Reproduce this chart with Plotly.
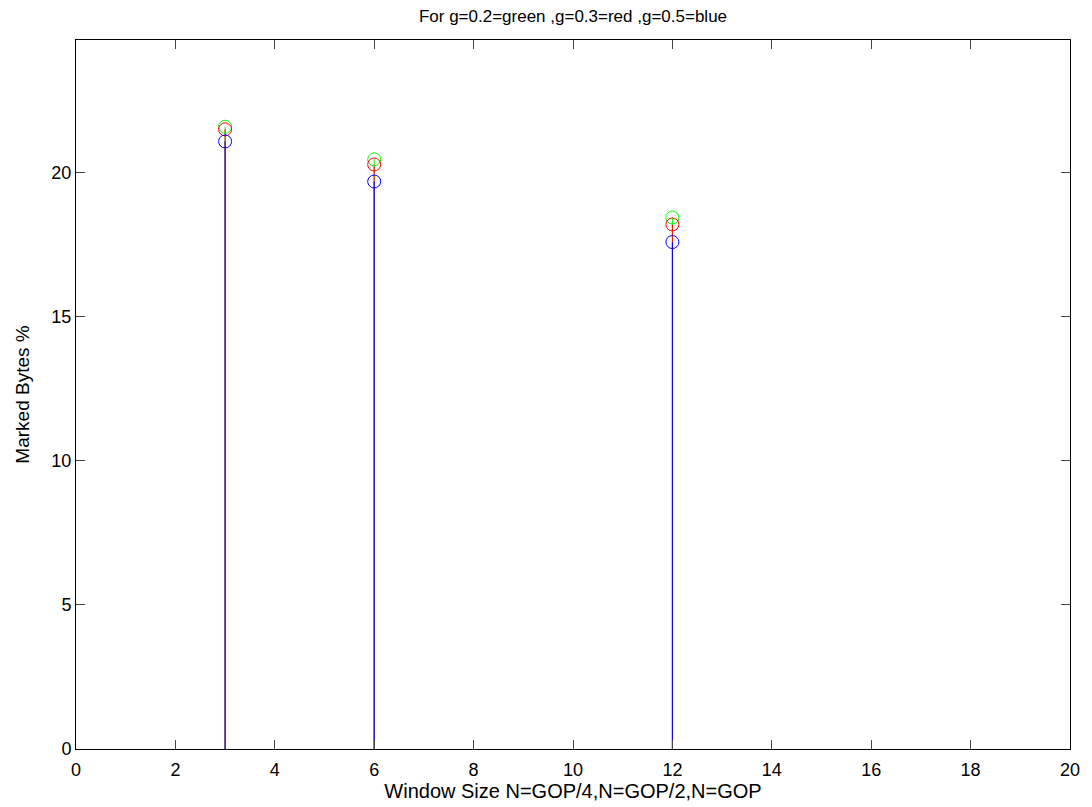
import plotly.graph_objects as go

window_sizes = [3, 6, 12]
g02_green = [21.59, 20.46, 18.44]
g03_red = [21.50, 20.28, 18.20]
g05_blue = [21.08, 19.69, 17.59]

x_ticks = list(range(0, 21, 2))
y_ticks = [0, 5, 10, 15, 20]

series = [
    ("g=0.2", g02_green, "#00ff00"),
    ("g=0.3", g03_red, "#ff0000"),
    ("g=0.5", g05_blue, "#0000ff"),
]

fig = go.Figure()
for name, vals, col in series:
    sx, sy = [], []
    for xv, yv in zip(window_sizes, vals):
        sx += [xv, xv, None]
        sy += [0, yv, None]
    fig.add_trace(go.Scatter(x=sx, y=sy, mode="lines",
                             line=dict(color=col, width=1),
                             hoverinfo="skip", showlegend=False))
for name, vals, col in series:
    fig.add_trace(go.Scatter(x=window_sizes, y=vals, mode="markers", name=name,
                             marker=dict(symbol="circle-open", size=13,
                                         color=col, line=dict(color=col, width=1)),
                             showlegend=False))

font = "Liberation Sans, Arial, Helvetica, sans-serif"
fig.update_layout(
    width=1092, height=807,
    margin=dict(l=76, r=16, t=40, b=54),
    paper_bgcolor="white", plot_bgcolor="white",
    font=dict(family=font, size=18, color="black"),
    title=dict(text="For g=0.2=green ,g=0.3=red ,g=0.5=blue",
               x=0.5, xref="paper", xanchor="center",
               y=1 - 16 / 807, yanchor="middle",
               font=dict(size=17, family=font)),
)
fig.update_xaxes(range=[0, 20], tickvals=x_ticks, ticktext=[str(t) for t in x_ticks],
                 ticks="inside", ticklen=9, tickcolor="#444", tickwidth=1,
                 showline=True, linecolor="black", linewidth=1, mirror="ticks",
                 showgrid=False, zeroline=False, ticklabelstandoff=4,
                 tickfont=dict(size=18),
                 title=dict(text="Window Size N=GOP/4,N=GOP/2,N=GOP",
                            font=dict(size=20), standoff=1))
fig.update_yaxes(range=[0, 24.6], tickvals=y_ticks, ticktext=[str(t) for t in y_ticks],
                 ticks="inside", ticklen=9, tickcolor="#444", tickwidth=1,
                 showline=True, linecolor="black", linewidth=1, mirror="ticks",
                 showgrid=False, zeroline=False,
                 tickfont=dict(size=18),
                 title=dict(text="Marked Bytes %", font=dict(size=19), standoff=16))

fig.write_html("out.html", config={"displayModeBar": False},
               post_script="document.body.style.margin='0';")
